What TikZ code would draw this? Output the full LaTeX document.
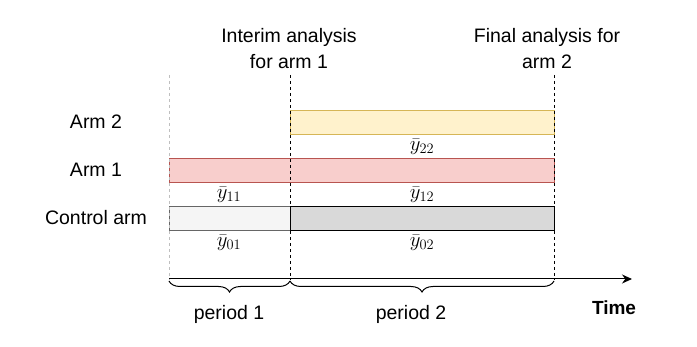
\documentclass[tikz,border=0pt]{standalone}
\usepackage{fontspec}
\setmainfont{Liberation Sans}
\usetikzlibrary{decorations.pathreplacing,arrows.meta}
\definecolor{yelF}{HTML}{FFF2CC}\definecolor{yelD}{HTML}{D6B656}
\definecolor{redF}{HTML}{F8CECC}\definecolor{redD}{HTML}{B85450}
\definecolor{gryF}{HTML}{F5F5F5}\definecolor{gryD}{HTML}{666666}
\definecolor{dgF}{HTML}{D9D9D9}
\tikzset{
  lbl/.style={font=\fontsize{19.5}{26}\selectfont, align=center, inner sep=0pt},
  mth/.style={font=\fontsize{20}{22}\selectfont, inner sep=0pt},
  vline/.style={dashed, line width=0.9pt, dash pattern=on 3pt off 3pt},
  brc/.style={decorate, decoration={brace, mirror, amplitude=11pt}, line width=1pt},
}
\begin{document}
\begin{tikzpicture}[x=1pt,y=-1pt]
\useasboundingbox (0,0) rectangle (697,347);
% guides
\coordinate (g0t) at (169,75); \coordinate (g0b) at (169,280);
\coordinate (g1t) at (290,75); \coordinate (g1b) at (290,280);
\coordinate (g2t) at (554,75); \coordinate (g2b) at (554,280);
% boxes
\draw[yelD, fill=yelF, line width=0.9pt] (290,110) rectangle (554,134);
\draw[redD, fill=redF, line width=0.9pt] (169,158) rectangle (554,182);
\draw[gryD, fill=gryF, line width=0.9pt] (169,206) rectangle (290,230);
\draw[black, fill=dgF, line width=0.9pt] (290,206) rectangle (554,230);
\draw[vline, black!25] (g0t) -- (g0b);
\draw[vline] (g1t) -- (g1b);
\draw[vline] (g2t) -- (g2b);
% axis
\coordinate (ax0) at (169,279); \coordinate (ax1) at (632,279);
\draw[line width=1pt, -{Stealth[length=10pt,width=9pt]}] (ax0) -- (ax1);
% braces
\draw[brc] (169,281) -- (290,281);
\draw[brc] (290,281) -- (554,281);
% labels
\node[lbl] (ia) at (289,49) {Interim analysis\\for arm 1};
\node[lbl] (fa) at (547,49) {Final analysis for\\arm 2};
\node[lbl] (a2) at (96,122) {Arm 2};
\node[lbl] (a1) at (96,170) {Arm 1};
\node[lbl] (ca) at (96,218) {Control arm};
\node[mth] (y22) at (422,147) {$\bar{y}_{22}$};
\node[mth] (y11) at (229,195) {$\bar{y}_{11}$};
\node[mth] (y12) at (422,195) {$\bar{y}_{12}$};
\node[mth] (y01) at (229,243) {$\bar{y}_{01}$};
\node[mth] (y02) at (422,243) {$\bar{y}_{02}$};
\node[lbl] (p1) at (229,314) {period 1};
\node[lbl] (p2) at (411,314) {period 2};
\node[lbl, font=\fontsize{19}{22}\selectfont\bfseries] (tm) at (614,308) {Time};
\end{tikzpicture}
\end{document}
